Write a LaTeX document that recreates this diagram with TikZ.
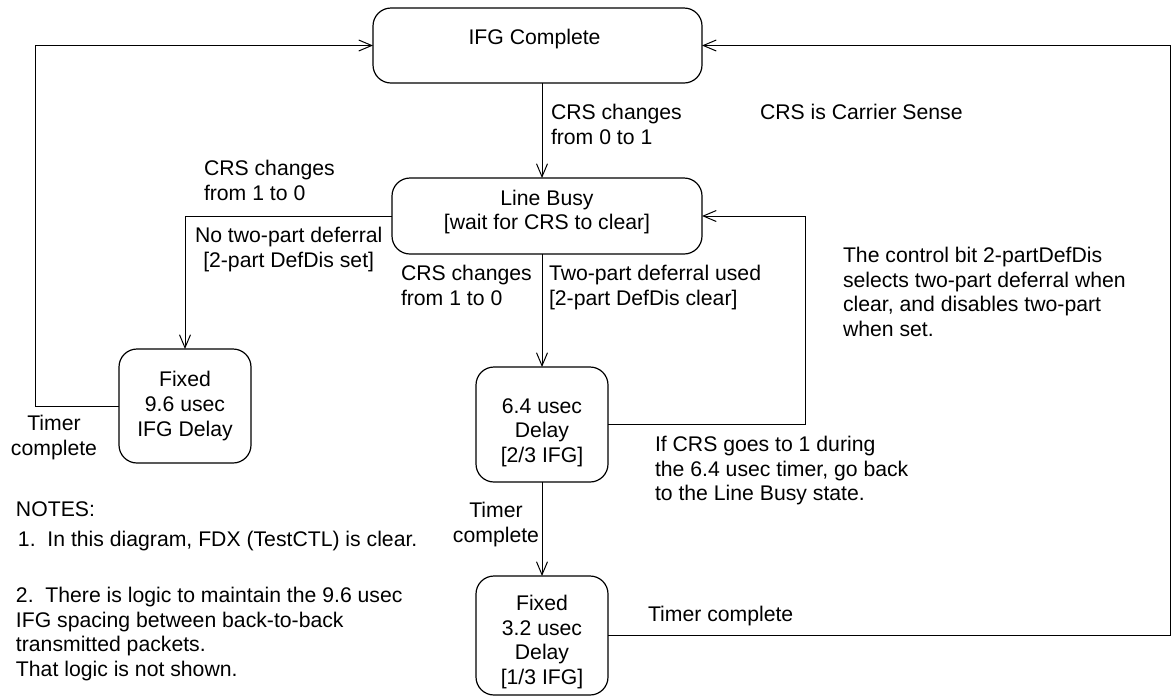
\documentclass[tikz,border=0pt]{standalone}
\usepackage{fontspec}
\setmainfont{Liberation Sans}
\usetikzlibrary{arrows.meta}

\begin{document}
\begin{tikzpicture}[%
					x=0.5pt, y=-0.5pt,
					font=\fontsize{10.6pt}{12.4pt}\selectfont,
					every node/.style={%
						inner sep=0pt,
						outer sep=0pt
					},
					state/.style={%
						draw,
						line width=0.6pt,
						rounded corners=9pt,
						align=center
					},
					note/.style={%
						align=left
					},
					trans/.style={%
						line width=0.5pt,
						-{Straight Barb[length=6.5pt,width=5.5pt]}
					}
				]

				\useasboundingbox (0, 0) rectangle (1171, 697);

				\node[state, minimum width=164.5pt, minimum height=37.5pt] (ifg) at (537.5, 45.5) {%
					IFG Complete\rule[-8.6pt]{0pt}{8.6pt}
				};

				\node[state, minimum width=155pt, minimum height=38pt] (busy) at (547, 216) {%
					Line Busy \\
					{}[wait for CRS to clear]\rule[-6.2pt]{0pt}{6.2pt}
				};

				\node[state, minimum width=66pt, minimum height=57pt] (fix96) at (185, 406) {%
					Fixed \\
					9.6 usec \\
					IFG Delay
				};

				\node[state, minimum width=66pt, minimum height=57.5pt] (d64) at (542, 424.5) {%
					\rule{0pt}{15.6pt}6.4 usec \\
					Delay \\
					{}[2/3 IFG]
				};

				\node[state, minimum width=66pt, minimum height=59.5pt] (d32) at (542, 635.5) {%
					\rule{0pt}{14.1pt}Fixed \\
					3.2 usec \\
					Delay \\
					{}[1/3 IFG]
				};

				\coordinate (leftrail) at (35, 0);
				\coordinate (midrail) at (805, 0);
				\coordinate (rightrail) at (1170, 0);

				\draw[trans] (ifg.south -| d64) -- (busy.north -| d64);
				\draw[trans] (busy.south -| d64) -- (d64.north);
				\draw[trans] (d64.south) -- (d32.north);
				\draw[trans] (busy.west) -| (fix96.north);
				\draw[trans] (fix96.west) -- (fix96.west -| leftrail) |- (ifg.west);
				\draw[trans] (d64.east) -- (d64.east -| midrail) |- (busy.east);
				\draw[trans] (d32.east) -- (d32.east -| rightrail) |- (ifg.east);

				\node[note, anchor=north west] (crsup) at (551, 104) {CRS changes\\from 0 to 1};
				\node[note, anchor=north west] (crsdef) at (760, 104) {CRS is Carrier Sense};
				\node[note, anchor=north west] (crsdownl) at (204, 160) {CRS changes\\from 1 to 0};
				\node[note, align=center, anchor=north west] (nodefer) at (195, 227) {No two-part deferral\\{}[2-part DefDis set]};
				\node[note, anchor=north west] (crsdownm) at (401, 265) {CRS changes\\from 1 to 0};
				\node[note, anchor=north west] (twodefer) at (549, 265) {Two-part deferral used\\{}[2-part DefDis clear]};
				\node[note, anchor=north west] (ctrlbit) at (843, 247) {The control bit 2-partDefDis\\selects two-part deferral when\\clear, and disables two-part\\when set.};
				\node[note, anchor=north west] (goback) at (655, 436) {If CRS goes to 1 during\\the 6.4 usec timer, go back\\to the Line Busy state.};
				\node[note, align=center, anchor=north] (timerl) at (54, 415) {Timer\\complete};
				\node[note, align=center, anchor=north] (timerm) at (496, 502) {Timer\\complete};
				\node[note, anchor=north west] (timerr) at (648, 606) {Timer complete};

				\node[note, anchor=north west] (notes) at (16, 502) {NOTES:};
				\node[note, anchor=north west] (noteone) at (18, 531) {1.\ \ In this diagram, FDX (TestCTL) is clear.};
				\node[note, anchor=north west] (notetwo) at (16, 587) {2.\ \ There is logic to maintain the 9.6 usec\\IFG spacing between back-to-back\\transmitted packets.\\That logic is not shown.};
			\end{tikzpicture}
\end{document}
